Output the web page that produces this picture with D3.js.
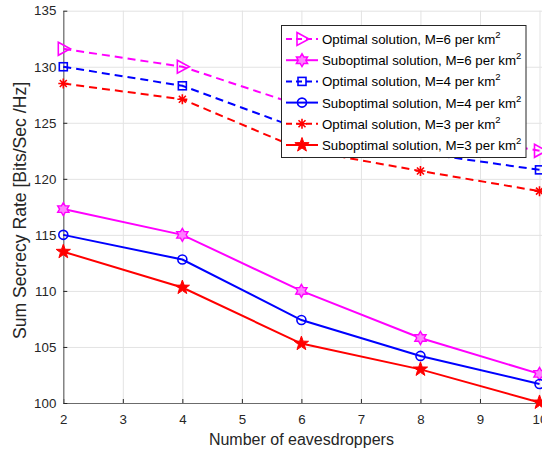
<!DOCTYPE html>
<html>
<head>
<meta charset="utf-8">
<script src="https://cdn.jsdelivr.net/npm/d3@7"></script>
<style>
  body { margin: 0; background: #fff; }
  svg { display: block; font-family: 'Liberation Sans', Arial, sans-serif; }
  .tick text { fill: #262626; font-size: 13.3px; }
  .grid line { stroke: #e3e3e3; }
  .grid path { display: none; }
</style>
</head>
<body>
<svg id="chart" width="542" height="449"></svg>
<script>
// eavesdroppers on the x axis
const eaves = [2, 4, 6, 8, 10]

// sum secrecy rate per series
const optM6 = [131.6, 130.0, 126.5, 124.4, 122.5]
const subM6 = [117.3, 115.0, 110.0, 105.8, 102.6]
const optM4 = [130.0, 128.3, 124.4, 122.3, 120.8]
const subM4 = [115.0, 112.8, 107.4, 104.2, 101.7]
const optM3 = [128.5, 127.1, 122.6, 120.7, 118.9]
const subM3 = [113.5, 110.3, 105.3, 103.0, 100.05]

const xTicks = [2, 3, 4, 5, 6, 7, 8, 9, 10]
const yTicks = [100, 105, 110, 115, 120, 125, 130, 135]

const labels = [
  'Optimal solution, M=6 per km',
  'Suboptimal solution, M=6 per km',
  'Optimal solution, M=4 per km',
  'Suboptimal solution, M=4 per km',
  'Optimal solution, M=3 per km',
  'Suboptimal solution, M=3 per km',
]

const series = [
  { vals: optM6, color: '#ff00ff', dash: '8,5', marker: 'tri' },
  { vals: subM6, color: '#ff00ff', dash: null, marker: 'hex' },
  { vals: optM4, color: '#0000ff', dash: '8,5', marker: 'square' },
  { vals: subM4, color: '#0000ff', dash: null, marker: 'circle' },
  { vals: optM3, color: '#ff0000', dash: '8,5', marker: 'asterisk' },
  { vals: subM3, color: '#ff0000', dash: null, marker: 'pent' },
]

const svg = d3.select('#chart')

const plotL = 63.3
const plotR = 539.5
const plotT = 10.7
const plotB = 403

const x = d3.scaleLinear().domain([2, 10]).range([plotL, plotR])
const y = d3.scaleLinear().domain([100, 135]).range([plotB, plotT])

// grid
svg.append('g')
  .attr('class', 'grid')
  .attr('transform', `translate(0, ${plotB})`)
  .call(d3.axisBottom(x).tickValues(xTicks).tickSize(-(plotB - plotT)).tickFormat(''))

svg.append('g')
  .attr('class', 'grid')
  .attr('transform', `translate(${plotL}, 0)`)
  .call(d3.axisLeft(y).tickValues(yTicks).tickSize(-(plotR - plotL + 10)).tickFormat(''))

// axes
const xAxis = svg.append('g')
  .attr('transform', `translate(0, ${plotB})`)
  .call(d3.axisBottom(x).tickValues(xTicks).tickSizeInner(-4).tickSizeOuter(0).tickPadding(12))

const yAxis = svg.append('g')
  .attr('transform', `translate(${plotL}, 0)`)
  .call(d3.axisLeft(y).tickValues(yTicks).tickSizeInner(-4).tickSizeOuter(0).tickPadding(7))

;[xAxis, yAxis].forEach(a => {
  a.select('.domain').attr('stroke', '#6b6b6b').attr('stroke-width', 1.2)
  a.selectAll('.tick line').attr('stroke', '#262626')
})

// marker shapes
function pentPath(r) {
  const pts = []
  for (let i = 0; i < 10; i++) {
    const rr = i % 2 === 0 ? r : r * 0.4
    const a = -Math.PI / 2 + i * Math.PI / 5
    pts.push([rr * Math.cos(a), rr * Math.sin(a)])
  }
  return 'M' + pts.join('L') + 'Z'
}

function hexPath(r) {
  const pts = []
  for (let i = 0; i < 12; i++) {
    const rr = i % 2 === 0 ? r : r * 0.58
    const a = -Math.PI / 2 + i * Math.PI / 6
    pts.push([rr * Math.cos(a), rr * Math.sin(a)])
  }
  return 'M' + pts.join('L') + 'Z'
}

function drawMarker(g, type, color) {
  if (type === 'tri') {
    g.append('path').attr('d', 'M-5,-6.5L7,0L-5,6.5Z')
      .attr('fill', 'none').attr('stroke', color).attr('stroke-width', 1.6)
  } else if (type === 'square') {
    g.append('rect').attr('x', -4).attr('y', -4).attr('width', 8).attr('height', 8)
      .attr('fill', 'none').attr('stroke', color).attr('stroke-width', 1.6)
  } else if (type === 'circle') {
    g.append('circle').attr('r', 4.5)
      .attr('fill', 'none').attr('stroke', color).attr('stroke-width', 1.6)
  } else if (type === 'asterisk') {
    const r = 5
    g.append('path')
      .attr('d', `M0,${-r}V${r}M${-r},0H${r}M${-r * 0.7},${-r * 0.7}L${r * 0.7},${r * 0.7}M${-r * 0.7},${r * 0.7}L${r * 0.7},${-r * 0.7}`)
      .attr('stroke', color).attr('stroke-width', 1.6)
  } else if (type === 'hex') {
    g.append('path').attr('d', hexPath(6.5))
      .attr('fill', '#ff80ff').attr('stroke', color).attr('stroke-width', 1.4)
  } else if (type === 'pent') {
    g.append('path').attr('d', pentPath(7.5))
      .attr('fill', color).attr('stroke', color).attr('stroke-width', 1)
  }
}

const line = d3.line().x((d, i) => x(eaves[i])).y(d => y(d))

series.forEach(s => {
  svg.append('path')
    .datum(s.vals)
    .attr('d', line)
    .attr('fill', 'none')
    .attr('stroke', s.color)
    .attr('stroke-width', 2)
    .attr('stroke-dasharray', s.dash)

  s.vals.forEach((v, i) => {
    const g = svg.append('g').attr('transform', `translate(${x(eaves[i])}, ${y(v)})`)
    drawMarker(g, s.marker, s.color)
  })
})

// axis labels
svg.append('text')
  .attr('x', (plotL + plotR) / 2)
  .attr('y', 445)
  .attr('text-anchor', 'middle')
  .attr('font-size', 16)
  .attr('fill', '#262626')
  .text('Number of eavesdroppers')

svg.append('text')
  .attr('transform', `translate(26, 210.5) rotate(-90)`)
  .attr('text-anchor', 'middle')
  .attr('font-size', 17.6)
  .attr('fill', '#262626')
  .text('Sum Secrecy Rate [Bits/Sec /Hz]')

// legend
const legend = svg.append('g')
legend.append('rect')
  .attr('x', 281.5).attr('y', 25.5)
  .attr('width', 244.5).attr('height', 132)
  .attr('fill', '#fff')
  .attr('stroke', '#262626')
  .attr('stroke-width', 1)

labels.forEach((lab, i) => {
  const s = series[i]
  const ly = 39 + i * 21.2
  legend.append('line')
    .attr('x1', 286).attr('x2', 318)
    .attr('y1', ly).attr('y2', ly)
    .attr('stroke', s.color)
    .attr('stroke-width', 2)
    .attr('stroke-dasharray', s.dash ? '6,4' : null)
  drawMarker(legend.append('g').attr('transform', `translate(302, ${ly})`), s.marker, s.color)
  const t = legend.append('text')
    .attr('x', 322).attr('y', ly + 5)
    .attr('font-size', 13.3)
    .attr('fill', '#000')
  t.append('tspan').text(lab)
  t.append('tspan').attr('dy', -6).attr('font-size', 9.5).text('2')
})
</script>
</body>
</html>
